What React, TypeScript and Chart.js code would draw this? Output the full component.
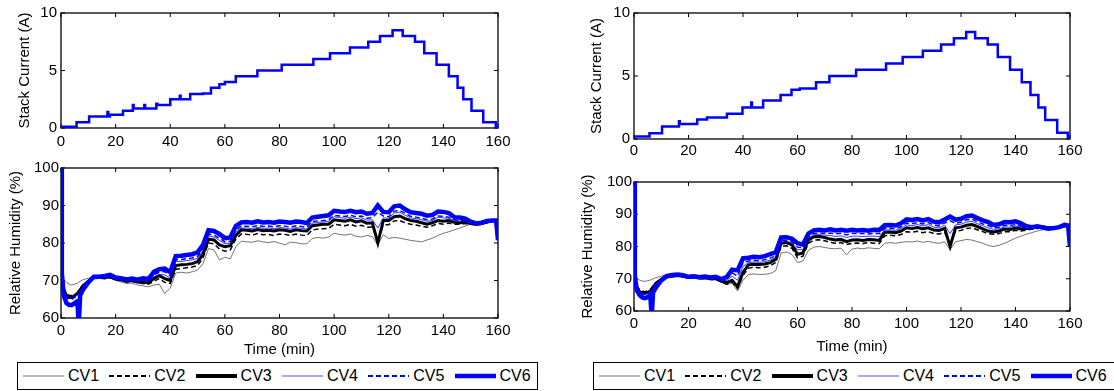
import React, { useEffect, useRef } from 'react';
import { Chart, registerables } from 'chart.js';
Chart.register(...registerables);

const FONT = '"Liberation Sans", Arial, Helvetica, sans-serif';

// ---------- tick labels ----------
const timeTicks = [0, 20, 40, 60, 80, 100, 120, 140, 160];
const currentTicks = [0, 5, 10];
const rhTicks = [60, 70, 80, 90, 100];
const seriesNames = ['CV1', 'CV2', 'CV3', 'CV4', 'CV5', 'CV6'];

// ---------- stack current (step levels, each level holds until the next time) ----------
const currentTimeL = [0, 5.7, 10.3, 17.0, 17.3, 17.9, 22.7, 26.3, 26.6, 30.5, 30.8, 34.9, 35.3, 40, 43.5, 43.8, 47.3, 51.9, 54.9, 58, 60, 64, 71.9, 80.8, 92.4, 98.5, 105.8, 112.5, 116.8, 121.4, 125.1, 129.6, 133, 137.5, 142, 145.2, 147.3, 150.3, 154.6, 159.2, 160];
const currentL = [0.1, 0.5, 1.0, 1.4, 1.0, 1.15, 1.5, 2.0, 1.7, 2.0, 1.7, 2.1, 2.0, 2.5, 2.8, 2.5, 2.95, 3.0, 3.5, 3.8, 4.0, 4.5, 5.0, 5.5, 6.0, 6.5, 7.0, 7.5, 8.0, 8.5, 8.0, 7.5, 6.5, 5.5, 4.5, 3.5, 2.5, 1.5, 0.5, 0, 0];

const currentTimeR = [0, 5.7, 10.3, 16.5, 16.8, 23.2, 26.8, 34.1, 39.8, 43, 43.3, 47.4, 53.8, 57.8, 60.8, 66.8, 71.7, 81.5, 92.5, 98.6, 106, 112.7, 117.4, 121.9, 125.2, 129.8, 133.5, 138, 142.3, 145.5, 148.4, 150.9, 155.3, 159.2, 160];
const currentR = [0.2, 0.45, 1.0, 1.4, 1.2, 1.55, 1.7, 2.0, 2.5, 2.9, 2.5, 3.05, 3.5, 3.9, 4.0, 4.5, 5.0, 5.5, 6.0, 6.5, 7.0, 7.5, 8.0, 8.5, 8.0, 7.5, 6.5, 5.5, 4.5, 3.5, 2.5, 1.5, 0.5, 0, 0];

// ---------- relative humidity ----------
const rhTime = [
  0, 0.3, 1, 2, 3, 4, 5, 6, 6.5, 7, 8,
  10, 12, 14, 16, 18, 20, 22, 24, 26, 28,
  30, 32, 34, 36, 38, 40, 42, 44, 46, 48,
  50, 52, 54, 56, 58, 60, 62, 64, 66, 68,
  70, 72, 74, 76, 78, 80, 82, 84, 86, 88,
  90, 92, 94, 96, 98, 100, 102, 104, 106, 108,
  110, 112, 114, 116, 118, 120, 122, 124, 126, 128,
  130, 132, 134, 136, 138, 140, 142, 144, 146, 148,
  150, 152, 154, 156, 158,
  159.3, 160,
];

// left panel
const cv1L = [
  100, 70.5, 70, 69.5, 69, 68.8, 69, 69.3, 69.5, 69.8, 70.2,
  70.6, 71, 70.8, 70.6, 70.7, 70, 69.6, 69.2, 69.3, 68.8,
  68.6, 68.3, 68.8, 69, 66.5, 68, 72, 72.2, 72, 72.3,
  72.8, 74.5, 78.5, 78.2, 75.5, 76.2, 75.8, 79, 80.5, 80.3,
  80.2, 80.6, 80.3, 80.1, 80.4, 80, 79.5, 80.2, 80.1, 79.8,
  79.8, 81.2, 81.5, 81.3, 81.6, 82.6, 82.3, 82.1, 82.4, 81.8,
  81.6, 82, 81.7, 79.5, 82.2, 81.2, 81.5, 81.3, 81, 80.7,
  80.5, 80.3, 80.8, 81.3, 82, 82.6, 83, 83.5, 84, 84.5,
  85, 85.2, 85.4, 85.6, 85.7,
  85.7, 80.8,
];
const cv2L = [
  100, 70, 68, 66.5, 66, 66, 66.3, 66.8, 67.2, 67.8, 68.8,
  69.9, 70.6, 70.6, 70.5, 70.8, 70.2, 70, 69.6, 69.8, 69.4,
  69.2, 69, 69.8, 70.5, 69.5, 69.2, 73, 73.2, 73.4, 73.6,
  74, 76, 80, 79.8, 78.4, 77.8, 78.2, 81, 82.4, 82.3,
  82.1, 82.5, 82.2, 82.3, 82, 82.4, 82.3, 82, 82.4, 82.1,
  82, 83.5, 83.7, 83.8, 83.9, 85, 84.8, 84.6, 85, 84.5,
  84.7, 84.2, 84.3, 80.5, 84.9, 84.9, 85.9, 86, 85.4, 85,
  84.8, 84.5, 84.2, 84.6, 85.2, 85, 85.3, 85, 85, 85.2,
  85, 84.8, 85, 85.4, 85.8,
  85.8, 80.8,
];
const cv3L = [
  100, 70, 67.5, 66, 65.5, 65.5, 66, 66.5, 67, 67.5, 68.5,
  69.8, 70.7, 70.8, 70.8, 71, 70.4, 70.2, 69.8, 70, 69.6,
  69.5, 69.4, 70.5, 71.3, 70.5, 70, 74, 74.2, 74.3, 74.5,
  75, 77, 81, 80.8, 79.5, 79, 79.3, 82, 83.5, 83.4,
  83.2, 83.6, 83.3, 83.4, 83.2, 83.5, 83.4, 83.1, 83.5, 83.3,
  83.2, 84.6, 84.8, 85, 85, 86.2, 86, 85.8, 86.2, 85.6,
  85.9, 85.3, 85.4, 80, 86, 86, 87, 87.2, 86.5, 86,
  85.8, 85.4, 85, 85.4, 86, 85.8, 86, 85.5, 85.4, 85.5,
  85.2, 85, 85.2, 85.6, 86,
  86, 80.8,
];
const cv4L = [
  100, 70, 67.5, 66, 65.5, 65.3, 65.8, 66.2, 66.8, 67.3, 68.5,
  69.9, 70.9, 71, 70.9, 71.1, 70.5, 70.3, 70, 70.2, 69.9,
  70, 69.9, 71, 71.6, 71.5, 70.6, 75, 75.1, 75.3, 75.5,
  75.9, 78, 81.9, 81.6, 80.7, 79.8, 80, 82.9, 84, 84,
  83.8, 84.2, 83.9, 84, 83.8, 84.1, 84, 83.7, 84.1, 83.9,
  83.7, 85.3, 85.5, 85.6, 85.8, 87, 86.8, 86.6, 86.9, 86.5,
  86.7, 86.1, 86.2, 84, 86.7, 86.6, 88, 88.2, 87.4, 86.7,
  86.5, 86.2, 85.8, 86, 86.9, 86.7, 86.6, 86, 85.9, 85.8,
  85.3, 84.9, 85.1, 85.6, 85.9,
  85.9, 80.8,
];
const cv5L = [
  100, 70, 67, 65.5, 65, 65, 65.5, 66, 66.5, 67, 68.3,
  69.8, 70.8, 70.9, 71, 71.2, 70.6, 70.4, 70.1, 70.3, 70,
  70.2, 70, 71.5, 72.2, 72.4, 71.2, 75.5, 75.6, 75.8, 76,
  76.4, 78.5, 82.4, 82.1, 81.3, 80.3, 80.5, 83.4, 84.5, 84.5,
  84.3, 84.7, 84.4, 84.5, 84.3, 84.6, 84.5, 84.2, 84.6, 84.4,
  84.2, 85.7, 85.9, 86, 86.2, 87.4, 87.2, 87.1, 87.4, 87,
  87.2, 86.6, 86.8, 88.2, 87.2, 87, 88.5, 88.7, 87.9, 87.1,
  86.9, 86.6, 86.2, 86.4, 87.2, 87.1, 86.9, 86.2, 86.1, 85.9,
  85.4, 85, 85.2, 85.7, 85.9,
  85.9, 80.8,
];
const cv6L = [
  100, 72, 66, 64, 63.5, 63.5, 64, 64.5, 58, 66, 67.5,
  69.5, 71, 71, 71.2, 71.5, 70.8, 70.6, 70.3, 70.5, 70.2,
  70.6, 70.4, 72.3, 73, 73.2, 72.2, 76.5, 76.6, 76.8, 77,
  77.5, 79.5, 83.4, 83.2, 82.4, 81.3, 81.5, 84.5, 85.5, 85.6,
  85.4, 85.8, 85.5, 85.6, 85.4, 85.7, 85.6, 85.4, 85.7, 85.6,
  85.3, 86.8, 87, 87.2, 87.4, 88.6, 88.4, 88.3, 88.6, 88.2,
  88.4, 87.8, 88, 90, 88.3, 88.2, 89.8, 90, 89, 88.2,
  88, 87.8, 87.3, 87.5, 88.4, 88.3, 88, 86.9, 86.8, 86.5,
  85.7, 85.2, 85.4, 85.9, 86,
  86, 80.8,
];

// right panel
const cv1R = [
  100, 70.5, 70, 69.6, 69.3, 69.2, 69.4, 69.6, 69.8, 70, 70.3,
  70.8, 71.3, 71.5, 71.2, 71, 70.5, 70.6, 70.2, 70.3, 69.9,
  69.8, 69, 68.2, 68.6, 66.2, 69.5, 71.3, 71.5, 71.3, 71.4,
  71.6, 72.5, 78, 78.3, 77.5, 75, 75.5, 78.8, 79.8, 80,
  79.7, 79.4, 79.3, 79.5, 77.4, 79.2, 79.5, 79.3, 79.6, 79.4,
  79.3, 81, 81.2, 81, 81.3, 81.5, 81.4, 81.7, 81.3, 81.6,
  81.2, 81, 81.5, 79, 81.5, 81.8, 82.2, 82, 81.5, 81,
  80.3, 80, 80.4, 81, 81.8, 82.6, 83.2, 83.8, 84.3, 84.8,
  85.2, 85.5, 85.6, 85.8, 86.2,
  86.1, 80,
];
const cv2R = [
  100, 69.8, 68, 66.6, 66.2, 66, 66.2, 66.7, 67.2, 67.8, 68.8,
  70, 70.6, 70.8, 70.9, 70.6, 70.2, 70.3, 70, 70.1, 69.8,
  69.8, 69, 68.3, 69, 67, 71, 73.3, 73.5, 73.4, 73.6,
  74, 75, 80, 80.2, 79.4, 76.5, 77, 81, 82, 82.1,
  81.8, 81.3, 81, 81.2, 80.6, 81, 81.1, 80.9, 81.2, 81,
  80.9, 83.3, 83.5, 83.3, 83.7, 84.6, 84.4, 84.7, 84.3, 84.6,
  84, 83.9, 84.4, 80.5, 84.8, 85, 85.6, 85.8, 85.2, 84.6,
  84, 83.8, 84, 84.6, 84.6, 85, 84.8, 85.1, 85.4, 85.6,
  85.8, 85.6, 85.7, 85.9, 86.2,
  86.1, 80,
];
const cv3R = [
  100, 69.5, 67.5, 66, 65.6, 65.5, 65.7, 66.2, 66.8, 67.4, 68.5,
  69.8, 70.5, 70.8, 71, 70.8, 70.4, 70.5, 70.2, 70.3, 70,
  70.1, 69.3, 68.8, 69.5, 67.5, 72, 74.3, 74.5, 74.4, 74.6,
  75, 76, 81, 81.2, 80.5, 77.6, 78, 82, 83, 83.1,
  82.8, 82.3, 82, 82.2, 81.5, 82, 82.1, 81.9, 82.2, 82.1,
  81.9, 84.4, 84.5, 84.3, 84.8, 85.8, 85.6, 85.9, 85.5, 85.8,
  85.1, 85, 85.6, 80, 85.8, 86, 86.6, 86.8, 86.2, 85.5,
  84.8, 84.5, 84.8, 85.4, 85.3, 85.7, 85.4, 85.6, 85.8, 86,
  86.1, 85.8, 85.9, 86, 86.4,
  86.3, 80,
];
const cv4R = [
  100, 69.6, 67.4, 66, 65.4, 65.2, 65.5, 66, 66.6, 67.2, 68.3,
  69.8, 70.6, 70.9, 71, 70.8, 70.4, 70.5, 70.2, 70.4, 70.1,
  70.3, 69.5, 69.4, 70.8, 69.5, 73.8, 75, 75.2, 75.1, 75.3,
  75.8, 76.6, 81.4, 81.6, 81, 79, 79, 82.6, 83.6, 83.7,
  83.5, 83.4, 83.1, 83.3, 82.8, 83.2, 83.2, 83.1, 83.2, 83.2,
  83.1, 85.1, 85.2, 85, 85.6, 86.7, 86.5, 86.8, 86.4, 86.8,
  86, 85.8, 86.6, 84, 86.7, 86.9, 87.6, 87.8, 87.1, 86.4,
  85.8, 85.3, 85.5, 86.1, 86, 86.4, 86, 85.8, 85.8, 86,
  85.9, 85.6, 85.8, 86, 86.5,
  86.4, 80,
];
const cv5R = [
  100, 69.8, 67.3, 65.8, 65.2, 65, 65.3, 65.8, 66.4, 67, 68.2,
  69.8, 70.6, 71, 71.1, 70.9, 70.5, 70.6, 70.3, 70.5, 70.2,
  70.4, 69.6, 69.8, 71.8, 70.8, 75, 75.5, 75.7, 75.6, 75.9,
  76.4, 77.2, 81.8, 82, 81.4, 79.8, 79.6, 83, 84, 84.2,
  84, 84.2, 83.9, 84.1, 83.6, 84.1, 84, 84, 83.9, 84.1,
  84, 85.6, 85.7, 85.5, 86.1, 87.3, 87.1, 87.4, 87, 87.4,
  86.6, 86.4, 87.3, 88, 87.2, 87.5, 88.3, 88.5, 87.7, 87,
  86.5, 85.8, 86, 86.6, 86.5, 86.8, 86.3, 85.8, 85.7, 86,
  85.7, 85.4, 85.6, 85.9, 86.5,
  86.4, 80,
];
const cv6R = [
  100, 71, 66.5, 65, 64.2, 64, 64.3, 64.8, 58, 65.8, 67.2,
  69.5, 70.8, 71.2, 71.3, 71.1, 70.6, 70.8, 70.5, 70.7, 70.4,
  70.6, 69.9, 70.5, 72.8, 72.6, 76.3, 76.5, 76.8, 76.7, 77,
  77.6, 78.2, 82.8, 82.9, 82.4, 81, 80.6, 84, 85, 85.2,
  85, 85.3, 85, 85.2, 84.9, 85.2, 85, 85.1, 84.9, 85.2,
  85.1, 86.6, 86.7, 86.5, 87.2, 88.4, 88.2, 88.5, 88.1, 88.5,
  87.7, 87.5, 88.4, 89.3, 88.3, 88.6, 89.4, 89.6, 88.8, 88.1,
  87.6, 86.7, 86.9, 87.6, 87.5, 87.8, 87.2, 86.3, 86, 86.3,
  85.9, 85.5, 85.7, 86, 86.7,
  86.5, 80,
];

// ---------- styles ----------
const seriesStyles = [
  { color: '#505050', width: 0.8, dash: [] as number[] },
  { color: '#000000', width: 1.5, dash: [5, 3] },
  { color: '#000000', width: 3, dash: [] as number[] },
  { color: '#0000ff', width: 0.8, dash: [] as number[] },
  { color: '#0000ff', width: 1.5, dash: [5, 3] },
  { color: '#0000ff', width: 4.5, dash: [] as number[] },
];
const legendStyles = [
  { color: '#707070', width: 1, dash: '' },
  { color: '#000000', width: 2, dash: '5,3' },
  { color: '#000000', width: 4, dash: '' },
  { color: '#5050ff', width: 1, dash: '' },
  { color: '#0000ff', width: 2, dash: '5,3' },
  { color: '#0000ff', width: 4.5, dash: '' },
];

const boxPlugin = {
  id: 'matlabBox',
  beforeDatasetsDraw(chart: any) {
    const { ctx, chartArea: a, scales } = chart;
    ctx.save();
    ctx.strokeStyle = '#000';
    ctx.lineWidth = 1.3;
    ctx.strokeRect(a.left, a.top, a.right - a.left, a.bottom - a.top);
    ctx.lineWidth = 1;
    ctx.beginPath();
    for (const t of scales.x.ticks) {
      const px = scales.x.getPixelForValue(t.value);
      ctx.moveTo(px, a.bottom); ctx.lineTo(px, a.bottom - 4);
      ctx.moveTo(px, a.top); ctx.lineTo(px, a.top + 4);
    }
    for (const t of scales.y.ticks) {
      const py = scales.y.getPixelForValue(t.value);
      ctx.moveTo(a.left, py); ctx.lineTo(a.left + 4, py);
      ctx.moveTo(a.right, py); ctx.lineTo(a.right - 4, py);
    }
    ctx.stroke();
    ctx.restore();
  },
};

type Cfg = {
  datasets: any[];
  yMin: number; yMax: number; yTicks: number[];
  yTitle: string; yTitlePad: number; yTickPad: number;
  xTitle: string | null; xAxisH: number; xTickPad: number;
};

function buildConfig(p: Cfg): any {
  const font = { family: FONT, size: 15 };
  return {
    type: 'line',
    data: { datasets: p.datasets },
    options: {
      animation: false,
      responsive: false,
      devicePixelRatio: 1,
      layout: { padding: { left: 0, top: 11, right: 20, bottom: 0 } },
      plugins: { legend: { display: false }, tooltip: { enabled: false } },
      elements: { point: { radius: 0 }, line: { tension: 0 } },
      scales: {
        x: {
          type: 'linear', min: 0, max: 160,
          afterBuildTicks: (s: any) => { s.ticks = timeTicks.map((v) => ({ value: v })); },
          ticks: { padding: p.xTickPad, color: '#000', font, maxRotation: 0, autoSkip: false },
          grid: { display: false, drawTicks: false },
          border: { display: false },
          title: { display: !!p.xTitle, text: p.xTitle || '', color: '#000', font, padding: { top: 0, bottom: 0 } },
          afterFit: (s: any) => { s.height = p.xAxisH; },
        },
        y: {
          type: 'linear', min: p.yMin, max: p.yMax,
          afterBuildTicks: (s: any) => { s.ticks = p.yTicks.map((v) => ({ value: v })); },
          ticks: { padding: p.yTickPad, color: '#000', font, autoSkip: false },
          grid: { display: false, drawTicks: false },
          border: { display: false },
          title: { display: true, text: p.yTitle, color: '#000', font, padding: { top: p.yTitlePad, bottom: 0 } },
          afterFit: (s: any) => { s.width = 61; },
        },
      },
    },
    plugins: [boxPlugin],
  };
}

function currentDataset(times: number[], vals: number[]) {
  return {
    label: 'Stack Current',
    data: times.map((t, i) => ({ x: t, y: vals[i] })),
    stepped: 'before',
    borderColor: '#0000ff',
    borderWidth: 2.5,
    pointRadius: 0,
  };
}

function rhDatasets(series: number[][]) {
  return series.map((vals, i) => ({
    label: seriesNames[i],
    data: rhTime.map((t, k) => ({ x: t, y: vals[k] })),
    borderColor: seriesStyles[i].color,
    borderWidth: seriesStyles[i].width,
    borderDash: seriesStyles[i].dash,
    pointRadius: 0,
    order: 5 - i,
  }));
}

function ChartCanvas(props: { left: number; top: number; width: number; height: number; make: () => any }) {
  const ref = useRef<HTMLCanvasElement>(null);
  useEffect(() => {
    const chart = new Chart(ref.current as HTMLCanvasElement, props.make());
    return () => chart.destroy();
  }, []);
  return (
    <canvas
      ref={ref}
      width={props.width}
      height={props.height}
      style={{ position: 'absolute', left: props.left, top: props.top, width: props.width, height: props.height }}
    />
  );
}

function Legend(props: { left: number; top: number; width: number }) {
  return (
    <div
      style={{
        position: 'absolute', left: props.left, top: props.top, width: props.width, height: 28,
        border: '1px solid #000', boxSizing: 'border-box', background: '#fff',
        fontFamily: FONT, fontSize: 16, color: '#000',
      }}
    >
      {seriesNames.map((name, i) => {
        const st = legendStyles[i];
        const x0 = 5 + i * 86.3;
        return (
          <React.Fragment key={name}>
            <svg width={41} height={8} style={{ position: 'absolute', left: x0, top: 9 }}>
              <line x1={0} y1={4} x2={41} y2={4} stroke={st.color} strokeWidth={st.width}
                strokeDasharray={st.dash || undefined} />
            </svg>
            <span style={{ position: 'absolute', left: x0 + 45, top: 4, lineHeight: '18px', whiteSpace: 'nowrap' }}>{name}</span>
          </React.Fragment>
        );
      })}
    </div>
  );
}

export default function App() {
  return (
    <div style={{ position: 'absolute', left: 0, top: 0, width: 1114, height: 391, background: '#fff', overflow: 'hidden' }}>
      <ChartCanvas left={0} top={0} width={518} height={153}
        make={() => buildConfig({
          datasets: [currentDataset(currentTimeL, currentL)],
          yMin: 0, yMax: 10, yTicks: currentTicks, yTitle: 'Stack Current (A)', yTitlePad: 16, yTickPad: 4,
          xTitle: null, xAxisH: 25, xTickPad: 5,
        })} />
      <ChartCanvas left={0} top={157} width={518} height={202}
        make={() => buildConfig({
          datasets: rhDatasets([cv1L, cv2L, cv3L, cv4L, cv5L, cv6L]),
          yMin: 60, yMax: 100, yTicks: rhTicks, yTitle: 'Relative Humidity (%)', yTitlePad: 7, yTickPad: 2,
          xTitle: 'Time (min)', xAxisH: 41, xTickPad: 4,
        })} />
      <ChartCanvas left={573} top={0} width={517} height={164}
        make={() => buildConfig({
          datasets: [currentDataset(currentTimeR, currentR)],
          yMin: 0, yMax: 10, yTicks: currentTicks, yTitle: 'Stack Current (A)', yTitlePad: 15, yTickPad: 4,
          xTitle: null, xAxisH: 25, xTickPad: 3,
        })} />
      <ChartCanvas left={573} top={171} width={517} height={185}
        make={() => buildConfig({
          datasets: rhDatasets([cv1R, cv2R, cv3R, cv4R, cv5R, cv6R]),
          yMin: 60, yMax: 100, yTicks: rhTicks, yTitle: 'Relative Humidity (%)', yTitlePad: 6, yTickPad: 2,
          xTitle: 'Time (min)', xAxisH: 45, xTickPad: 4,
        })} />
      <Legend left={17} top={362} width={521} />
      <Legend left={593} top={362} width={523} />
    </div>
  );
}
